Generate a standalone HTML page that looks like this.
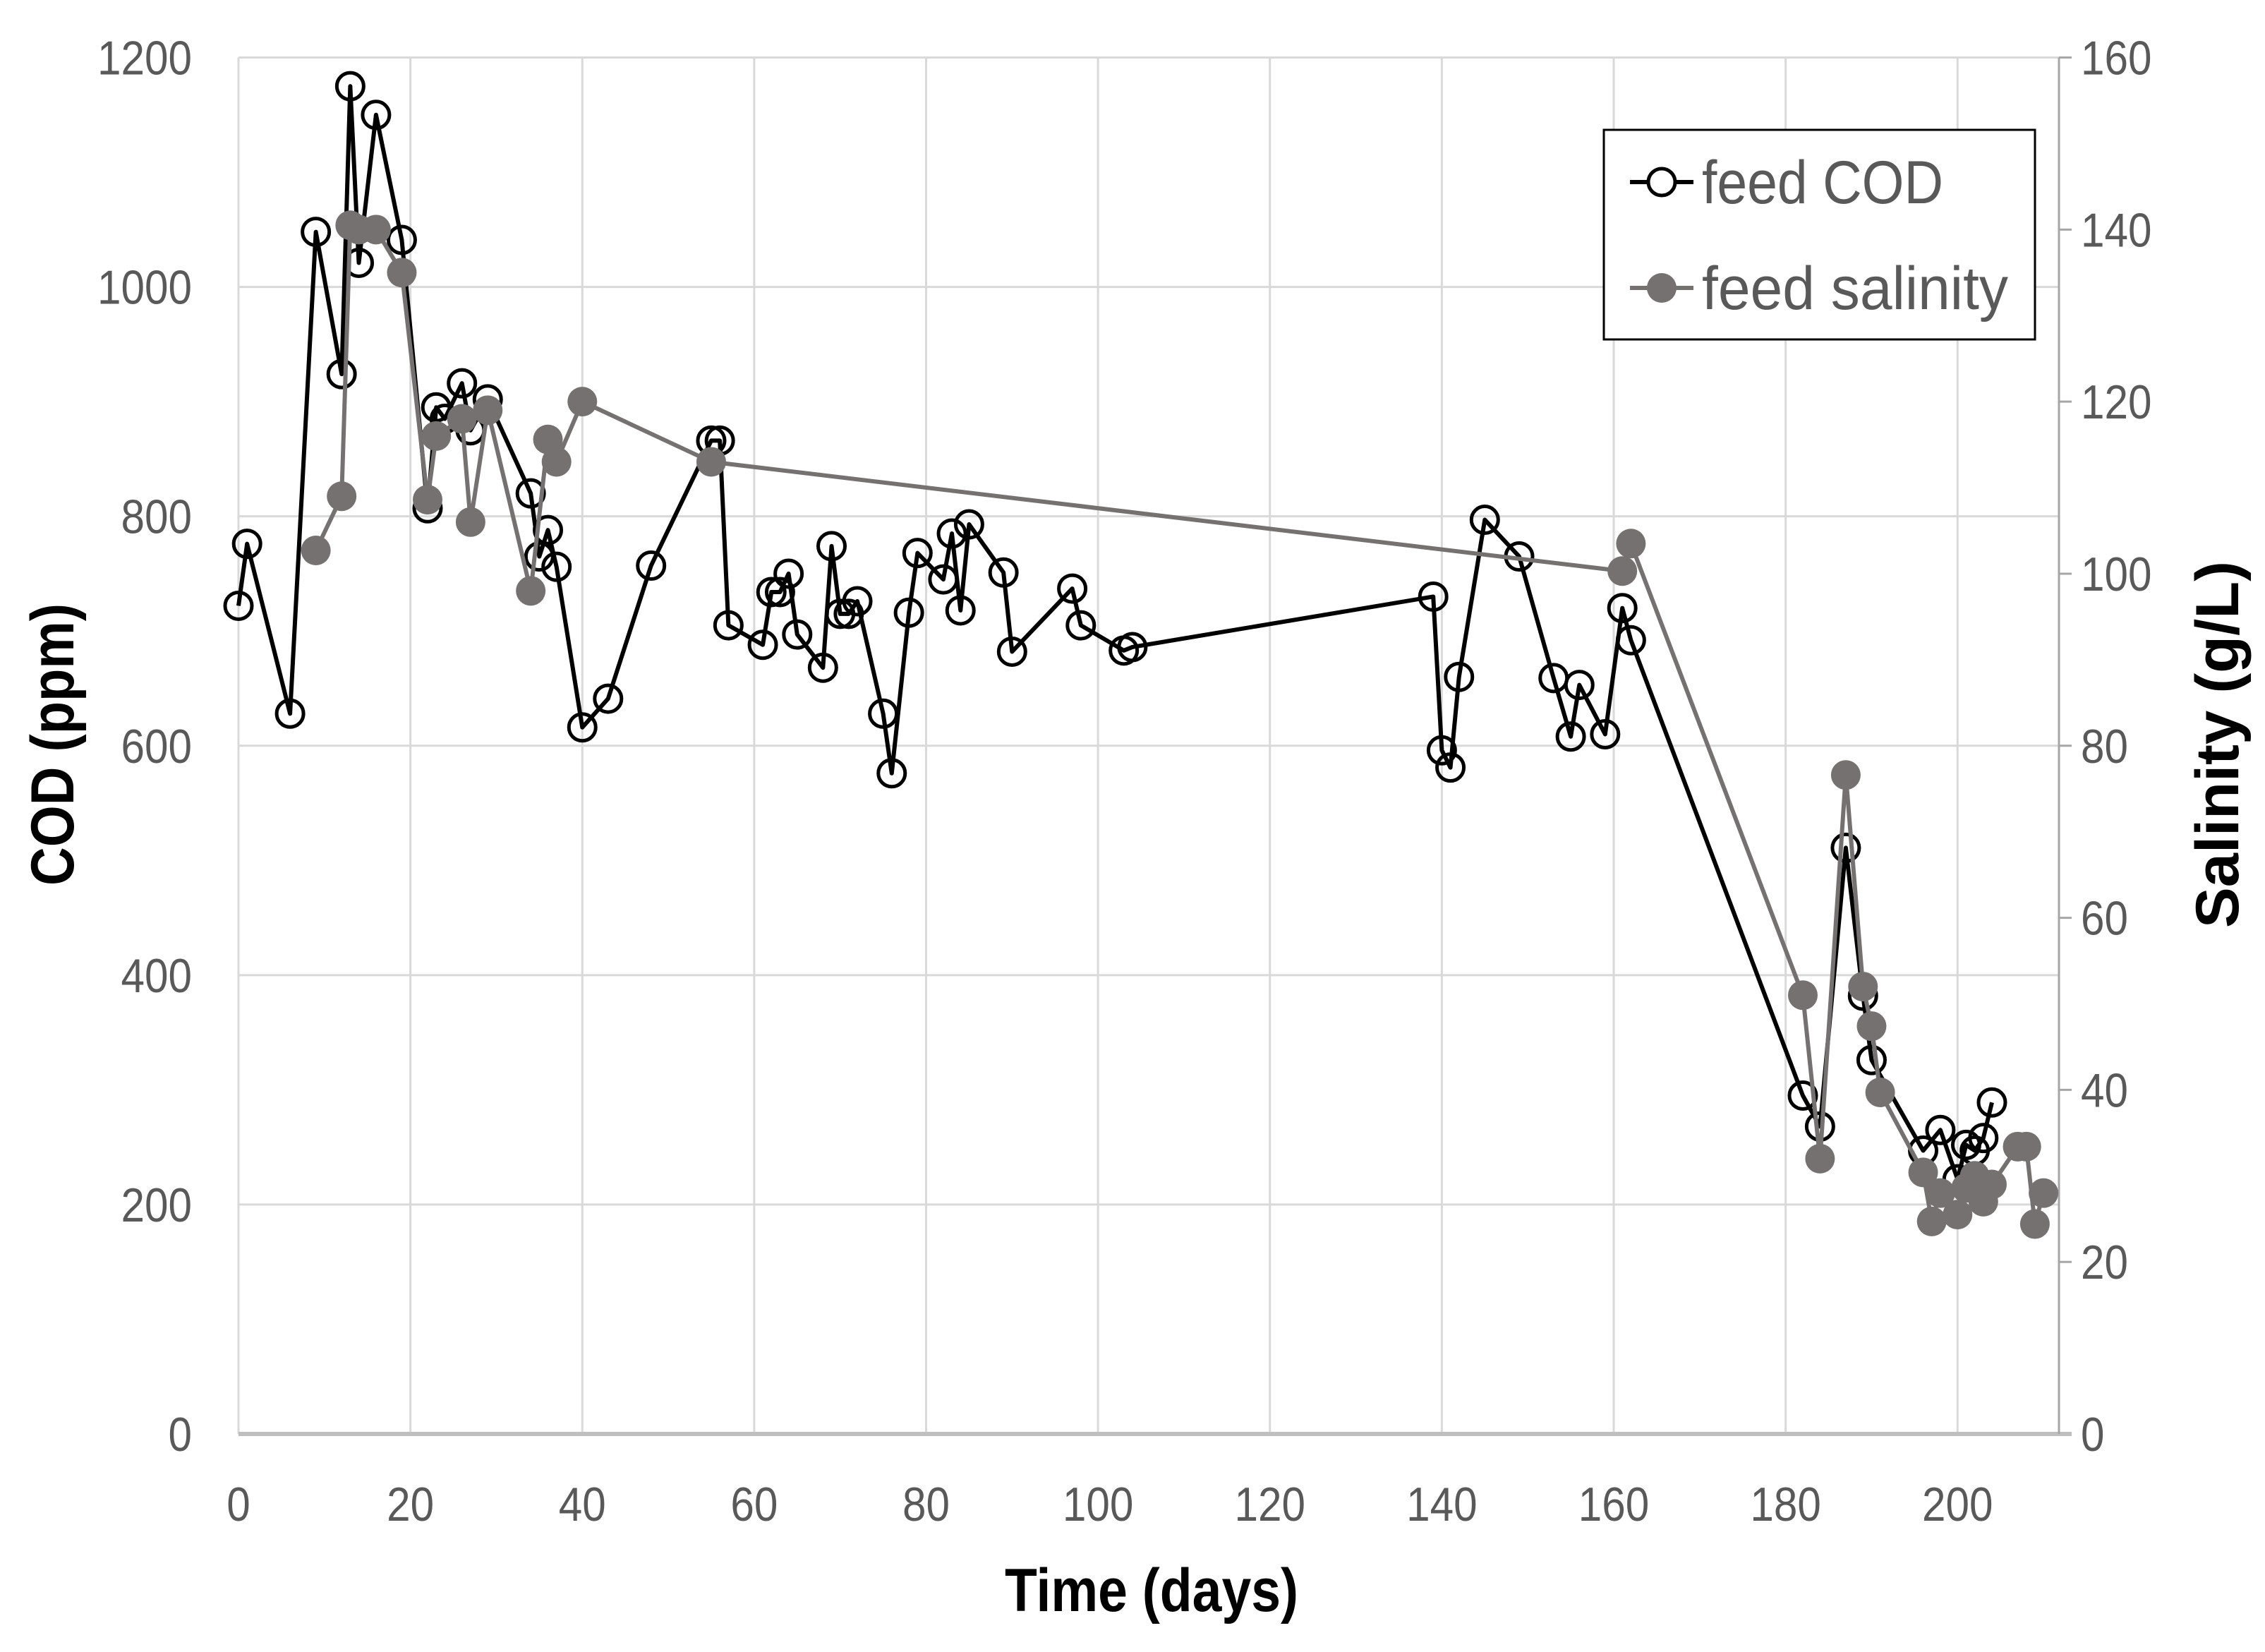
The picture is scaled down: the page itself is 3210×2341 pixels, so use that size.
<!DOCTYPE html>
<html><head><meta charset="utf-8"><style>
html,body{margin:0;padding:0;background:#fff;}
svg{display:block;font-family:"Liberation Sans",sans-serif;}
</style></head>
<body>
<svg id="chart" width="3210" height="2341" viewBox="0 0 3210 2341" xmlns="http://www.w3.org/2000/svg">
<g id="grid"></g>
<g id="axes"></g>
<g id="cod-series"></g>
<g id="sal-series"></g>
<text x="1632" y="2283" text-anchor="middle" font-size="86" font-weight="bold" textLength="416" lengthAdjust="spacingAndGlyphs">Time (days)</text>
<text transform="translate(104,1055) rotate(-90)" text-anchor="middle" font-size="86" font-weight="bold" textLength="400" lengthAdjust="spacingAndGlyphs">COD (ppm)</text>
<text transform="translate(3172,1055) rotate(-90)" text-anchor="middle" font-size="86" font-weight="bold" textLength="520" lengthAdjust="spacingAndGlyphs">Salinity (g/L)</text>
<g>
<rect x="2273" y="184" width="611" height="297" fill="#fff" stroke="#000" stroke-width="3"/>
<g>
<line x1="2310" y1="258" x2="2400" y2="258" stroke="#000" stroke-width="6"/>
<circle cx="2355" cy="258" r="19" fill="#fff" stroke="#000" stroke-width="5"/>
<text x="2412" y="288" font-size="86" fill="#595959" textLength="342" lengthAdjust="spacingAndGlyphs">feed COD</text>
</g>
<g>
<line x1="2310" y1="408" x2="2400" y2="408" stroke="#767171" stroke-width="6"/>
<circle cx="2355" cy="408" r="21" fill="#767171"/>
<text x="2412" y="438" font-size="86" fill="#595959" textLength="434" lengthAdjust="spacingAndGlyphs">feed salinity</text>
</g>
</g>
</svg>
<script>
const codDays=[0,1,6,9,12,13,14,16,19,22,23,24,26,27,29,34,35,36,37,40,43,48,55,56,57,61,62,63,64,65,68,69,70,71,72,75,76,78,79,82,83,84,85,89,90,97,98,103,104,139,140,141,142,145,149,153,155,156,159,161,162,182,184,187,189,190,196,198,200,201,202,203,204];
const codValues=[722,776,628,1048,924,1175,1021,1150,1041,807,895,885,916,875,902,820,765,788,756,616,641,757,866,866,705,688,734,734,750,697,668,774,715,715,726,628,576,716,768,745,785,718,793,751,682,737,705,683,686,730,596,581,660,797,765,659,608,653,610,720,692,295,268,511,382,326,247,265,222,252,247,258,289];
const salDays=[9,12,13,14,16,19,22,23,26,27,29,34,36,37,40,55,161,162,182,184,187,189,190,191,196,197,198,200,201,202,203,204,207,208,209,210];
const salValues=[102.7,109,140.5,140,140,135,108.6,116,118,106,119,98,115.6,113,120,113,100.3,103.5,51,32,76.6,52,47.4,39.7,30.4,24.7,28,25.5,28.6,30,27,29,33.4,33.4,24.4,28];
const xTicks=[0,20,40,60,80,100,120,140,160,180,200];
const codTicks=[0,200,400,600,800,1000,1200];
const salTicks=[0,20,40,60,80,100,120,140,160];

const X0=338,X1=2918,Y0=2032,Y1=81.5;
const XMAX=211.8;
const sx=d=>X0+(X1-X0)*d/XMAX;
const sy=v=>Y0-(Y0-Y1)*v/1200;
const sy2=v=>Y0-(Y0-Y1)*v/160;
const NS="http://www.w3.org/2000/svg";
function mk(tag,attrs,parent){const e=document.createElementNS(NS,tag);for(const k in attrs)e.setAttribute(k,attrs[k]);parent.appendChild(e);return e;}
const grid=document.getElementById('grid'),axes=document.getElementById('axes');
codTicks.forEach(v=>{
  const l=mk('line',{x1:X0,x2:X1,y1:sy(v),y2:sy(v),stroke:'#d9d9d9','stroke-width':3},grid);
  
  
  const s=String(v);
  const t=mk('text',{x:272,y:sy(v)+24,'text-anchor':'end','font-size':68,fill:'#595959',textLength:s.length*33.5,lengthAdjust:'spacingAndGlyphs'},axes);
  t.textContent=s;
  
  
});
xTicks.forEach(v=>{
  const l=mk('line',{x1:sx(v),x2:sx(v),y1:Y1,y2:Y0,stroke:'#d9d9d9','stroke-width':3},grid);
  
  
  const s=String(v);
  const t=mk('text',{x:sx(v),y:2155,'text-anchor':'middle','font-size':68,fill:'#595959',textLength:s.length*33.5,lengthAdjust:'spacingAndGlyphs'},axes);
  t.textContent=s;
  
  
});
salTicks.forEach(v=>{
  const s=String(v);
  const t=mk('text',{x:2949,y:sy2(v)+24,'text-anchor':'start','font-size':68,fill:'#595959',textLength:s.length*33.5,lengthAdjust:'spacingAndGlyphs'},axes);
  t.textContent=s;
  
  
  const tk=mk('line',{x1:X1,x2:X1+18,y1:sy2(v),y2:sy2(v),stroke:'#a6a6a6','stroke-width':3},axes);
  
  
});
const xa=mk('line',{x1:X0,x2:X1+18,y1:Y0,y2:Y0,stroke:'#bfbfbf','stroke-width':6},axes);


const ra=mk('line',{x1:X1,x2:X1,y1:Y1,y2:Y0,stroke:'#a6a6a6','stroke-width':3},axes);



const cg=document.getElementById('cod-series');
const cl=mk('polyline',{points:codDays.map((d,i)=>sx(d)+','+sy(codValues[i])).join(' '),fill:'none',stroke:'#000','stroke-width':6,'stroke-linejoin':'round'},cg);


codDays.forEach((d,i)=>{
  const c=mk('circle',{cx:sx(d),cy:sy(codValues[i]),r:19,fill:'none',stroke:'#000','stroke-width':5},cg);
  
  
});
const sg=document.getElementById('sal-series');
const sl=mk('polyline',{points:salDays.map((d,i)=>sx(d)+','+sy2(salValues[i])).join(' '),fill:'none',stroke:'#767171','stroke-width':6,'stroke-linejoin':'round'},sg);


salDays.forEach((d,i)=>{
  const c=mk('circle',{cx:sx(d),cy:sy2(salValues[i]),r:21,fill:'#767171'},sg);
  
  
});
</script>
</body></html>
